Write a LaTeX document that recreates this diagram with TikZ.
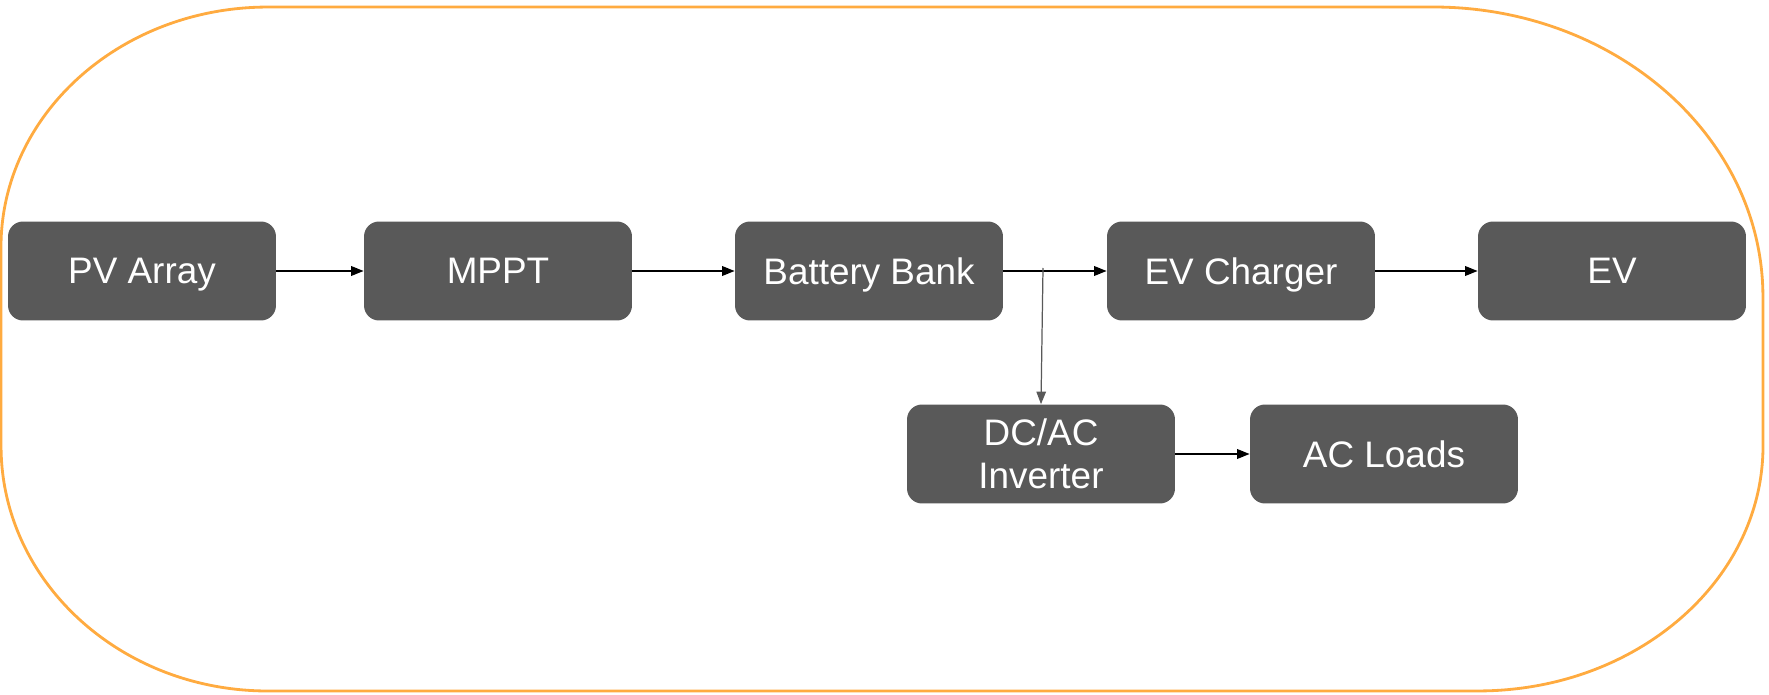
\documentclass[tikz,border=0pt]{standalone}
\usepackage{fontspec}
\setmainfont{Liberation Sans}
\usepackage{tikz}
\usetikzlibrary{arrows.meta, positioning}
\definecolor{boxgray}{RGB}{89,89,89}
\definecolor{frameorange}{RGB}{255,171,64}

\begin{document}
\begin{tikzpicture}[x=0.02cm, y=0.02cm,
    block/.style={fill=boxgray, text=white, rounded corners=0.3cm, minimum width=5.36cm, minimum height=1.98cm,
        inner sep=2pt, align=center, text depth=0pt, font=\fontsize{21}{24.5}\selectfont},
    flow/.style={line width=1pt, -{Triangle[length=0.25cm, width=0.19cm]}}]
    % Bounding box of the whole picture
    \useasboundingbox (0,0) rectangle (1769,694);

    % Drawing the orange outline
    \draw[frameorange, line width=1.6pt] (268,687) -- (1433,687)
        arc[start angle=90, end angle=0, x radius=6.6cm, y radius=5.8cm] -- (1763,248)
        arc[start angle=0, end angle=-90, x radius=5.7cm, y radius=4.9cm] -- (268,3)
        arc[start angle=270, end angle=180, x radius=5.34cm, y radius=4.9cm] -- (1,447)
        arc[start angle=180, end angle=90, x radius=5.34cm, y radius=4.8cm] -- cycle;

    % Blocks of the upper row
    \node[block] (pv) at (142,423) {PV Array};
    \node[block] (mppt) at (498,423) {MPPT};
    \node[block] (bank) at (869,423) {Battery Bank};
    \node[block] (charger) at (1241,423) {EV Charger};
    \node[block] (ev) at (1612,423) {EV};

    % Blocks of the lower row
    \node[block] (inverter) at (1041,240) {DC/AC\\Inverter};
    \node[block] (loads) at (1384,240) {AC Loads};

    % Drawing the connections
    \draw[flow] (pv) -- (mppt);
    \draw[flow] (mppt) -- (bank);
    \draw[flow] (bank) -- (charger);
    \draw[flow] (charger) -- (ev);
    \coordinate (tap) at (1043,426);
    \draw[flow, boxgray, line width=0.7pt] (tap) -- (inverter.north);
    \draw[flow] (inverter) -- (loads);
\end{tikzpicture}
\end{document}
